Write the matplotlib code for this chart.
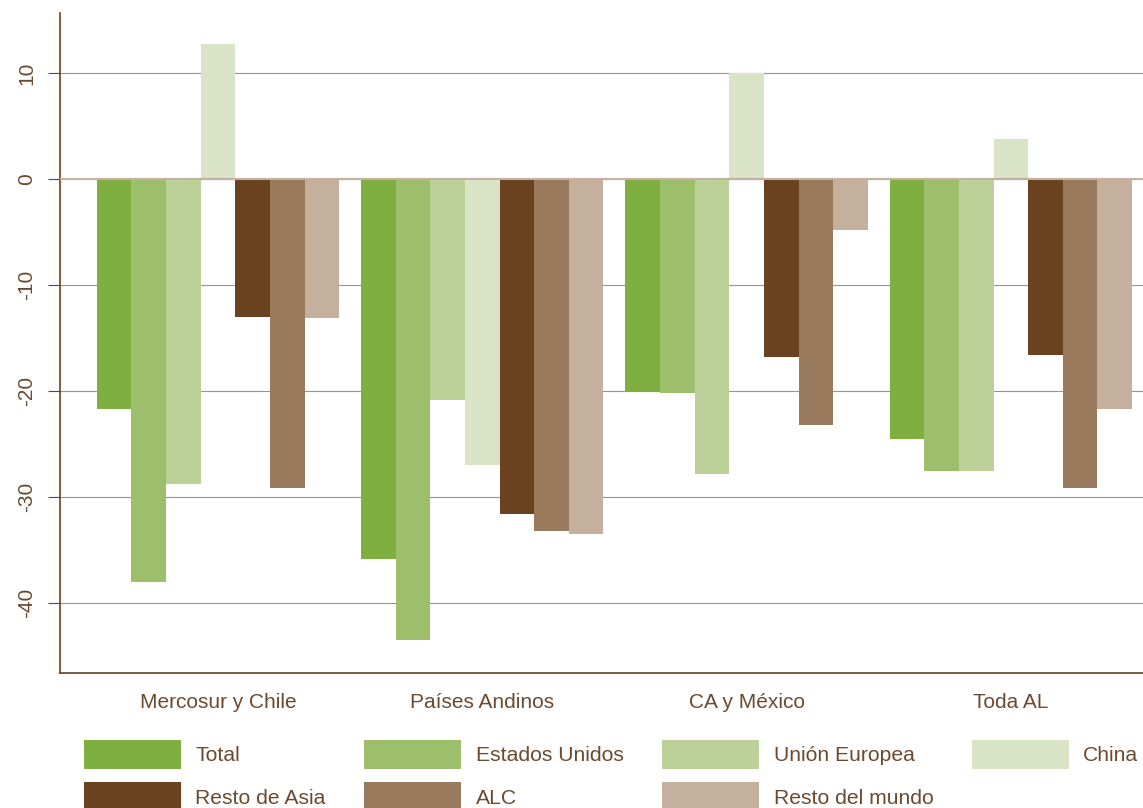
import numpy as np
import matplotlib.pyplot as plt
from matplotlib.patches import Patch

plt.rcParams['font.family'] = ['Liberation Sans', 'DejaVu Sans']

regions = ['Mercosur y Chile', 'Países Andinos', 'CA y México', 'Toda AL']
series = ['Total', 'Estados Unidos', 'Unión Europea', 'China',
          'Resto de Asia', 'ALC', 'Resto del mundo']

total = [-21.7, -35.8, -20.1, -24.5]
estados_unidos = [-38.0, -43.5, -20.2, -27.5]
union_europea = [-28.8, -20.8, -27.8, -27.5]
china = [12.8, -27.0, 10.0, 3.8]
resto_asia = [-13.0, -31.6, -16.8, -16.6]
alc = [-29.1, -33.2, -23.2, -29.1]
resto_mundo = [-13.1, -33.5, -4.8, -21.7]

values = [total, estados_unidos, union_europea, china, resto_asia, alc, resto_mundo]
colors = ['#7fae41', '#9dbf6b', '#bbd198', '#d9e4c6', '#6b4220', '#9a7a5c', '#c4b09c']

txt = '#6b4a2e'
fig = plt.figure(figsize=(11.43, 8.08), dpi=100)
ax = fig.add_axes([0.0525, 0.167, 0.9475, 0.817])

x = np.arange(len(regions))
w = 0.131
for i, (vals, c) in enumerate(zip(values, colors)):
    ax.bar(x + (i - 3) * w, vals, width=w, color=c, label=series[i], zorder=3)

ax.set_xlim(-0.598, 3.5)
ax.set_ylim(-46.6, 15.7)
ax.set_yticks([-40, -30, -20, -10, 0, 10])
ax.set_yticklabels(['-40', '-30', '-20', '-10', '0', '10'], rotation=90, va='center')
ax.set_xticks(x)
ax.set_xticklabels(regions)
ax.yaxis.grid(True, color='#a89078', linewidth=0.8, zorder=0)
ax.axhline(0, color='#c4b09c', linewidth=1.5, zorder=4)

for s in ['top', 'right']:
    ax.spines[s].set_visible(False)
for s in ['left', 'bottom']:
    ax.spines[s].set_color('#6b4220')
    ax.spines[s].set_linewidth(1.2)
ax.tick_params(axis='y', direction='out', length=9, color='#6b4220', labelsize=15,
               labelcolor=txt, pad=8)
ax.tick_params(axis='x', length=0, labelsize=15, labelcolor=txt, pad=14)

order = [0, 4, 1, 5, 2, 6, 3]
handles = [Patch(facecolor=colors[k], edgecolor='none', label=series[k]) for k in order]
leg = fig.legend(handles=handles, ncol=4, loc='upper left',
                 bbox_to_anchor=(0.0735, 1 - 740 / 808), frameon=False,
                 fontsize=15.2, handlelength=4.6, handleheight=1.75,
                 handletextpad=0.68, columnspacing=1.82, labelspacing=0.62,
                 borderpad=0, borderaxespad=0)
for t in leg.get_texts():
    t.set_color(txt)

fig.savefig('out.png', dpi=100)
